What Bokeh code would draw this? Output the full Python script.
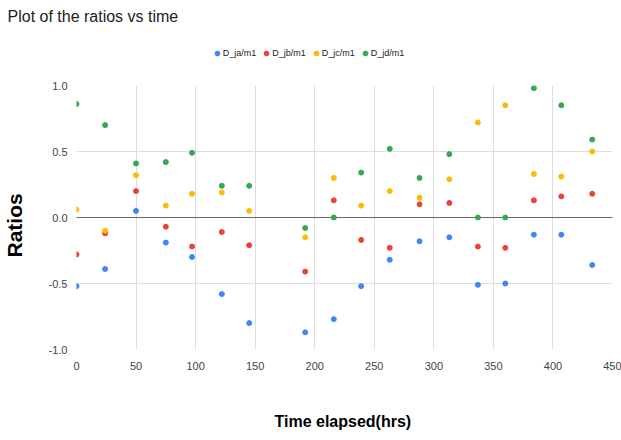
import math
from bokeh.plotting import figure
from bokeh.layouts import column
from bokeh.models import Range1d, Title, Legend, LegendItem, Span, FixedTicker, PrintfTickFormatter
from bokeh.embed import file_html
from bokeh.resources import INLINE

time_hrs = [0, 24, 50, 75, 97, 122, 145, 192, 216, 239, 263, 288, 313, 337, 360, 384, 407, 433]
d_ja = [-0.52, -0.39, 0.05, -0.19, -0.30, -0.58, -0.80, -0.87, -0.77, -0.52, -0.32, -0.18, -0.15, -0.51, -0.50, -0.13, -0.13, -0.36]
d_jb = [-0.28, -0.12, 0.20, -0.07, -0.22, -0.11, -0.21, -0.41, 0.13, -0.17, -0.23, 0.10, 0.11, -0.22, -0.23, 0.13, 0.16, 0.18]
d_jc = [0.06, -0.10, 0.32, 0.09, 0.18, 0.19, 0.05, -0.15, 0.30, 0.09, 0.20, 0.15, 0.29, 0.72, 0.85, 0.33, 0.31, 0.50]
d_jd = [0.86, 0.70, 0.41, 0.42, 0.49, 0.24, 0.24, -0.08, 0.00, 0.34, 0.52, 0.30, 0.48, 0.00, 0.00, 0.98, 0.85, 0.59]

series_names = ["D_ja/m1", "D_jb/m1", "D_jc/m1", "D_jd/m1"]
series_values = [d_ja, d_jb, d_jc, d_jd]
series_colors = ["#4285F4", "#EA4335", "#FBBC04", "#34A853"]

x_ticks = [0, 50, 100, 150, 200, 250, 300, 350, 400, 450]
y_ticks = [-1.0, -0.5, 0.0, 0.5, 1.0]

SANS = "Liberation Sans"
HEAD_H = 75

# ---- header: title + legend ----
head = figure(width=621, height=HEAD_H, output_backend="svg", toolbar_location=None,
              x_axis_type=None, y_axis_type=None,
              x_range=Range1d(0, 450), y_range=Range1d(5, 6),
              min_border_left=76, min_border_right=9, min_border_top=0, min_border_bottom=0)
head.outline_line_color = None
head.xgrid.visible = False
head.ygrid.visible = False
head.border_fill_color = "white"

head.title.text = "Plot of the ratios vs time"
head.title.text_font = SANS
head.title.text_font_size = "16px"
head.title.text_font_style = "normal"
head.title.text_color = "#222222"
head.title.align = "left"
head.title.offset = -69
head.title.vertical_align = "top"
head.title.standoff = 15

items = []
for name, vals, col in zip(series_names, series_values, series_colors):
    r = head.scatter(time_hrs, vals, size=5, fill_color=col, line_color=col,
                     marker="circle", visible=False)
    items.append(LegendItem(label=name, renderers=[r]))

legend = Legend(items=items, orientation="horizontal", location=(134.7, 15.7),
                glyph_width=12, glyph_height=12, label_height=12, label_standoff=0,
                spacing=4, padding=0, margin=0, border_line_color=None,
                background_fill_alpha=0, inactive_fill_alpha=0, label_text_font=SANS,
                label_text_font_size="9px", label_text_color="#222222",
                label_text_baseline="middle")
head.add_layout(legend, "center")

# ---- main chart ----
p = figure(width=621, height=440 - HEAD_H, output_backend="svg", toolbar_location=None,
           x_range=Range1d(0, 450), y_range=Range1d(-1, 1),
           min_border_left=76, min_border_right=9, min_border_top=85 - HEAD_H,
           min_border_bottom=91)
p.outline_line_color = None
p.background_fill_color = "white"
p.border_fill_color = "white"

for ax in (p.xaxis[0], p.yaxis[0]):
    ax.axis_line_color = None
    ax.major_tick_line_color = None
    ax.minor_tick_line_color = None
    ax.major_tick_in = 0
    ax.major_tick_out = 0
    ax.minor_tick_in = 0
    ax.minor_tick_out = 0
    ax.major_label_text_font = SANS
    ax.major_label_text_font_size = "11px"
    ax.major_label_text_color = "#444444"

p.xaxis.ticker = FixedTicker(ticks=x_ticks)
p.yaxis.ticker = FixedTicker(ticks=y_ticks)
p.yaxis.formatter = PrintfTickFormatter(format="%.1f")
p.xaxis.major_label_standoff = 12
p.yaxis.major_label_standoff = 9

p.xgrid.grid_line_color = "#dddddd"
p.ygrid.grid_line_color = "#dddddd"

zero = Span(location=0, dimension="width", line_color="#666666", line_width=1, level="underlay")
p.add_layout(zero)

for name, vals, col in zip(series_names, series_values, series_colors):
    p.scatter(time_hrs, vals, size=5, fill_color=col, line_color=col, marker="circle")

# spacers + axis titles
p.add_layout(Title(text=" ", text_font_size="2px", standoff=36), "below")
p.add_layout(Title(text="Time elapsed(hrs)", text_font=SANS, text_font_style="bold",
                   text_font_size="16px", text_color="#000000", align="left",
                   offset=198, vertical_align="top", standoff=0), "below")

p.add_layout(Title(text=" ", text_font_size="2px", standoff=14), "left")
p.add_layout(Title(text="Ratios", text_font=SANS, text_font_style="bold",
                   text_font_size="21px", text_color="#000000", align="left",
                   offset=92, vertical_align="top", standoff=0), "left")

layout = column(head, p, spacing=0)
open("out.html", "w").write(file_html(layout, INLINE))
